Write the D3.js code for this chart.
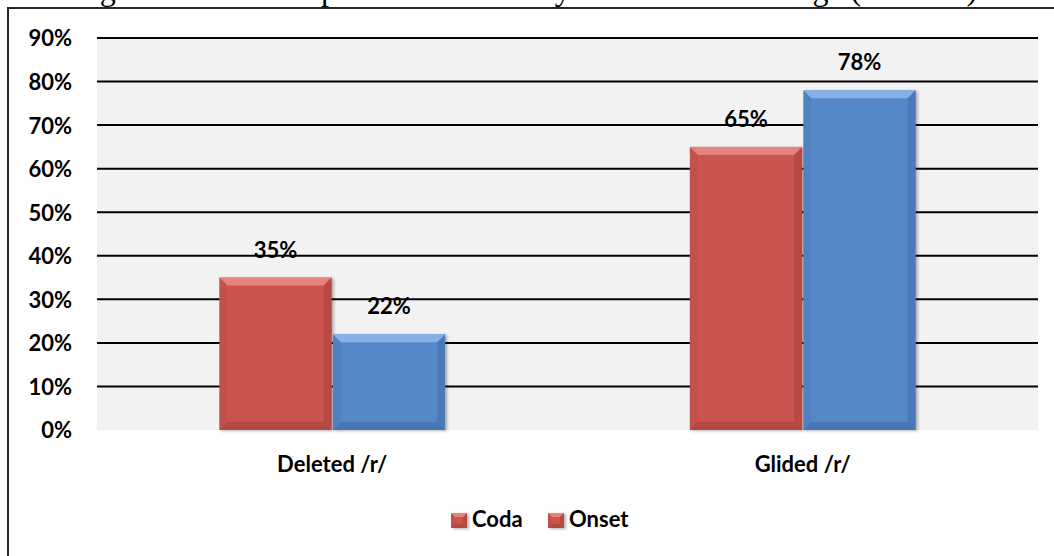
<!DOCTYPE html>
<html>
<head>
<meta charset="utf-8">
<script src="https://cdn.jsdelivr.net/npm/d3@7"></script>
<style>
  html, body { margin: 0; padding: 0; background: #fff; }
  svg { display: block; }
</style>
</head>
<body>
<svg id="chart" width="1054" height="556"></svg>
<script>
// Data
const categories = ["Deleted /r/", "Glided /r/"];
const seriesNames = ["Coda", "Onset"];
const codaValues = [35, 65];
const onsetValues = [22, 78];
const yTickValues = [0, 10, 20, 30, 40, 50, 60, 70, 80, 90];
const titleText = "Figure 4: Incorrect production of /r/ by Arabs in the Passage (N = 120)";

const seriesValues = { Coda: codaValues, Onset: onsetValues };
const seriesColor = { Coda: { main: "#ca5450", light: "#ea8783", dark: "#a03c39" },
                      Onset: { main: "#5588c8", light: "#8db6e8", dark: "#3d6aa3" } };
// Legend swatches are both drawn in the coda red
const legendSwatch = ["Coda", "Coda"];

const svg = d3.select("#chart");
const font = "Lato, 'Open Sans', sans-serif";
const fs = 22;

// Defs: shadow for bars
const defs = svg.append("defs");
const sh = defs.append("filter").attr("id", "shadow")
  .attr("x", "-10%").attr("y", "-10%").attr("width", "130%").attr("height", "130%");
sh.append("feDropShadow").attr("dx", 2).attr("dy", 1).attr("stdDeviation", 1.8)
  .attr("flood-color", "#000").attr("flood-opacity", 0.3);

// Title (sits above the frame, mostly off the page)
svg.append("text")
  .attr("x", 73).attr("y", 0)
  .attr("font-family", "'Liberation Serif', 'Times New Roman', serif")
  .attr("font-size", 32)
  .attr("fill", "#000")
  .text(titleText);

// Chart frame
svg.append("rect")
  .attr("x", 8).attr("y", 8).attr("width", 1060).attr("height", 570)
  .attr("fill", "#fff").attr("stroke", "#262626").attr("stroke-width", 2);

// Scales
const plot = { left: 97, right: 1038, top: 38, bottom: 430 };
const y = d3.scaleLinear().domain([0, 90]).range([plot.bottom, plot.top]);
const x0 = d3.scaleBand().domain(categories).range([plot.left, plot.right]);
const bw = x0.bandwidth();
const x1 = d3.scaleBand().domain(seriesNames).range([bw * 0.26, bw * 0.74]).paddingInner(0.01);

// Plot area background
svg.append("rect")
  .attr("x", plot.left).attr("y", plot.top)
  .attr("width", plot.right - plot.left).attr("height", plot.bottom - plot.top)
  .attr("fill", "#f2f2f2");

// Gridlines
svg.append("g").selectAll("line")
  .data(yTickValues.filter(v => v > 0))
  .join("line")
  .attr("x1", plot.left).attr("x2", plot.right)
  .attr("y1", d => y(d)).attr("y2", d => y(d))
  .attr("stroke", "#000").attr("stroke-width", 2);

// Y axis labels
const yAxis = d3.axisLeft(y).tickValues(yTickValues).tickFormat(d => d + "%").tickSize(0).tickPadding(0);
const ya = svg.append("g").attr("transform", `translate(72,0)`).call(yAxis);
ya.select(".domain").remove();
ya.selectAll("text")
  .attr("font-family", font).attr("font-weight", 700).attr("font-size", fs)
  .attr("fill", "#000").attr("dy", "0.36em");

// Bevelled bar drawing
function bevelBar(g, x, yTop, w, h, c, b) {
  g.append("rect").attr("x", x).attr("y", yTop).attr("width", w).attr("height", h)
    .attr("fill", c.main).attr("filter", "url(#shadow)");
  const pts = a => a.map(p => p.join(",")).join(" ");
  // top
  g.append("polygon").attr("points", pts([[x, yTop], [x + w, yTop], [x + w - b, yTop + b], [x + b, yTop + b]]))
    .attr("fill", c.light).attr("opacity", 0.9);
  // left
  g.append("polygon").attr("points", pts([[x, yTop], [x + b, yTop + b], [x + b, yTop + h - b], [x, yTop + h]]))
    .attr("fill", "#000").attr("opacity", 0.04);
  // right
  g.append("polygon").attr("points", pts([[x + w, yTop], [x + w - b, yTop + b], [x + w - b, yTop + h - b], [x + w, yTop + h]]))
    .attr("fill", c.dark).attr("opacity", 0.45);
  // bottom
  g.append("polygon").attr("points", pts([[x, yTop + h], [x + w, yTop + h], [x + w - b, yTop + h - b], [x + b, yTop + h - b]]))
    .attr("fill", c.dark).attr("opacity", 0.55);
}

const barsG = svg.append("g");
categories.forEach((cat, i) => {
  seriesNames.forEach(s => {
    const v = seriesValues[s][i];
    const bx = x0(cat) + x1(s);
    const by = y(v);
    const bh = y(0) - y(v);
    bevelBar(barsG, bx, by, x1.bandwidth(), bh, seriesColor[s], 8);
  });
});

// Value labels
categories.forEach((cat, i) => {
  seriesNames.forEach(s => {
    const v = seriesValues[s][i];
    svg.append("text")
      .attr("x", x0(cat) + x1(s) + x1.bandwidth() / 2)
      .attr("y", y(v) - 20)
      .attr("text-anchor", "middle")
      .attr("font-family", font).attr("font-weight", 700).attr("font-size", fs)
      .attr("fill", "#000")
      .text(v + "%");
  });
});

// Category labels
svg.append("g").selectAll("text")
  .data(categories)
  .join("text")
  .attr("x", d => x0(d) + bw / 2)
  .attr("y", 472)
  .attr("text-anchor", "middle")
  .attr("font-family", font).attr("font-weight", 700).attr("font-size", fs)
  .attr("fill", "#000")
  .text(d => d);

// Legend
const legendX = d3.scalePoint().domain(seriesNames).range([451, 548]);
const lg = svg.append("g");
seriesNames.forEach((s, i) => {
  const lx = legendX(s);
  bevelBar(lg, lx, 513, 16, 15, seriesColor[legendSwatch[i]], 4);
  lg.append("text")
    .attr("x", lx + 21).attr("y", 527)
    .attr("font-family", font).attr("font-weight", 700).attr("font-size", fs)
    .attr("fill", "#000")
    .text(s);
});
</script>
</body>
</html>
